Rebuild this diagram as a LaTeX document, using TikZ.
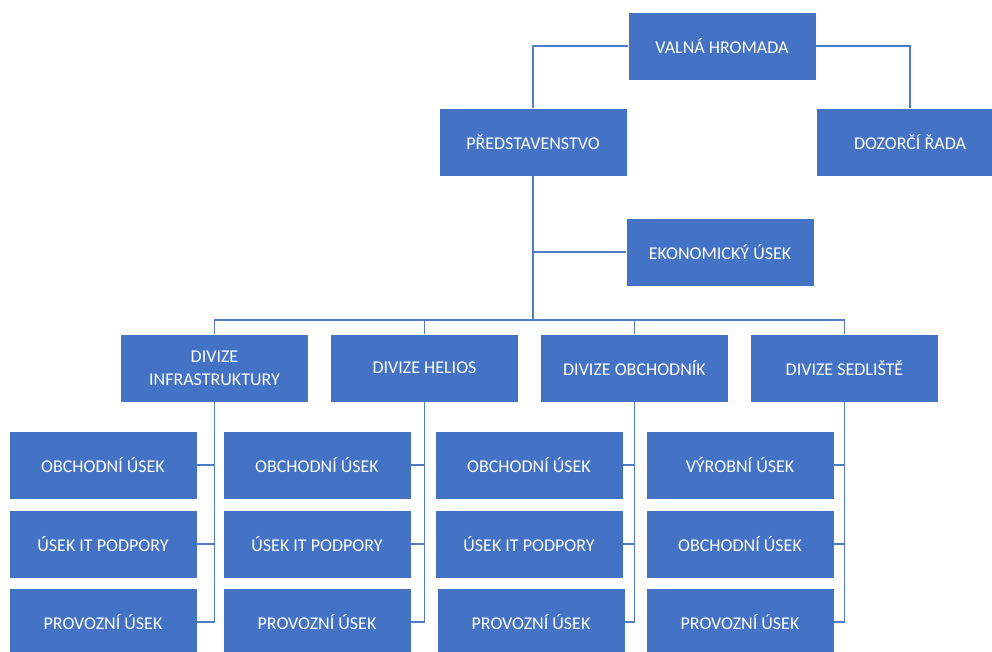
\documentclass[tikz,border=0pt]{standalone}
\usepackage{fontspec}
\setmainfont{Carlito}
\definecolor{boxblue}{HTML}{4472C4}
\definecolor{lineblue}{HTML}{4F7BC8}
\begin{document}
\begin{tikzpicture}[x=1pt,y=-1pt,
  unit/.style={rectangle, fill=boxblue, draw=white, line width=0.6pt,
    minimum width=188pt, minimum height=68pt, inner sep=0pt, outer sep=0pt,
    text=white, align=center, font=\fontsize{18}{23}\selectfont},
  link/.style={draw=lineblue, line width=1.3pt}]
\clip (0,0) rectangle (992,652);
\fill[white] (0,0) rectangle (992,652);

% top management
\node[unit] (vh)   at (722,46)  {VALNÁ HROMADA};
\node[unit] (pred) at (533,142) {PŘEDSTAVENSTVO};
\node[unit] (doz)  at (910,142) {DOZORČÍ ŘADA};
\node[unit] (ekon) at (720,252) {EKONOMICKÝ ÚSEK};

% divisions
\node[unit] (infra)  at (214.5,368) {DIVIZE\\INFRASTRUKTURY};
\node[unit] (helios) at (424.5,368) {DIVIZE HELIOS};
\node[unit] (obch)   at (634.5,368) {DIVIZE OBCHODNÍK};
\node[unit] (sedl)   at (844.5,368) {DIVIZE SEDLIŠTĚ};

% departments of each division
\node[unit] (i1) at (103,465) {OBCHODNÍ ÚSEK};
\node[unit] (i2) at (103,544) {ÚSEK IT PODPORY};
\node[unit] (i3) at (103,622) {PROVOZNÍ ÚSEK};

\node[unit] (h1) at (317,465) {OBCHODNÍ ÚSEK};
\node[unit] (h2) at (317,544) {ÚSEK IT PODPORY};
\node[unit] (h3) at (317,622) {PROVOZNÍ ÚSEK};

\node[unit] (o1) at (529,465) {OBCHODNÍ ÚSEK};
\node[unit] (o2) at (529,544) {ÚSEK IT PODPORY};
\node[unit] (o3) at (531,622) {PROVOZNÍ ÚSEK};

\node[unit] (s1) at (740,465) {VÝROBNÍ ÚSEK};
\node[unit] (s2) at (740,544) {OBCHODNÍ ÚSEK};
\node[unit] (s3) at (740,622) {PROVOZNÍ ÚSEK};

% connectors
\coordinate (bus) at (533,320);
\draw[link] (vh.west) -| (pred.north);
\draw[link] (vh.east) -| (doz.north);
\draw[link] (pred.south) -- (bus);
\draw[link] (ekon.west) -- (ekon.west -| pred.south);
\foreach \d in {infra,helios,obch,sedl}
  \draw[link] (\d.north) |- (bus);

\foreach \d/\s in {infra/i,helios/h,obch/o,sedl/s}
  \foreach \r in {1,2,3}
    \draw[link] (\s\r.east) -| (\d.south);
\end{tikzpicture}
\end{document}
